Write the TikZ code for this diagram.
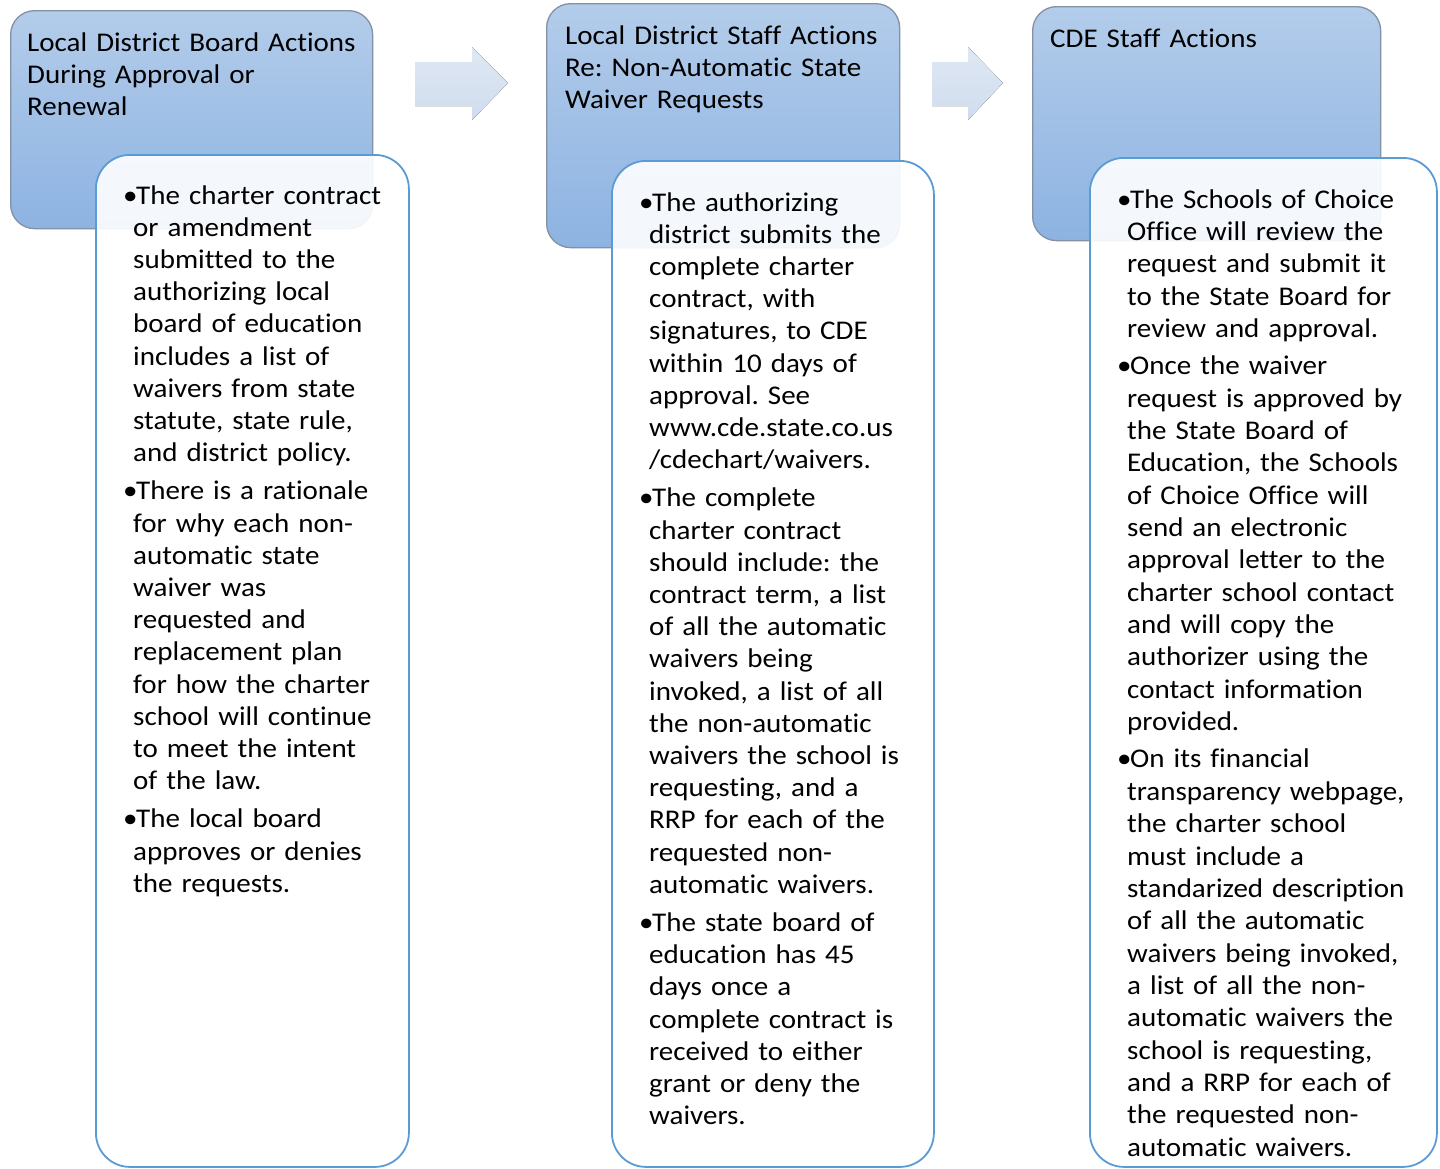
\documentclass[tikz,border=0pt]{standalone}
\usepackage{fontspec}
\setmainfont{Carlito}[FakeStretch=1.075,WordSpace=0.6,Ligatures=NoCommon]
\definecolor{headtop}{HTML}{B3CCEA}
\definecolor{headbot}{HTML}{8DB3E2}
\definecolor{headline}{HTML}{8491A3}
\definecolor{bodyline}{HTML}{5B9BD5}
\definecolor{arrtop}{HTML}{DFE8F4}
\definecolor{arrbot}{HTML}{D0DCEE}
\newcommand\bl{\makebox[13pt][l]{•}}
\newcommand\ct{\hspace*{10pt}}
\frenchspacing
\begin{document}
\begin{tikzpicture}[x=1pt,y=-1pt,
  headbox/.style={draw=headline, line width=1.3pt, rounded corners=24pt,
    top color=headtop, bottom color=headbot, anchor=north west, inner sep=0pt},
  bodybox/.style={draw=bodyline, line width=1.8pt, rounded corners=34pt,
    fill=white, fill opacity=0.9, anchor=north west, inner sep=0pt},
  headtext/.style={anchor=base west, inner sep=0pt, text width=400pt, align=left,
    font=\fontsize{27}{32.2}\selectfont},
  bodytext/.style={anchor=base west, inner sep=0pt, text width=400pt, align=left,
    font=\fontsize{27}{32.2}\selectfont},
  blockarrow/.style={top color=arrtop, bottom color=arrbot, draw=none}]
\useasboundingbox (0,0) rectangle (1440,1168);

% column 1
\node[headbox, minimum width=362pt, minimum height=218pt] (h1) at (10,10) {};
\node[headtext] (h1t) at (27,51) {Local District Board Actions\\During Approval or\\Renewal};
\node[bodybox, minimum width=313pt, minimum height=1012pt] (b1) at (95,154) {};
\node[bodytext] (b1t) at (123,204) {\bl The charter contract\\
\ct or amendment\\
\ct submitted to the\\
\ct authorizing local\\
\ct board of education\\
\ct includes a list of\\
\ct waivers from state\\
\ct statute, state rule,\\
\ct and district policy.\\[6pt]
\bl There is a rationale\\
\ct for why each non-\\
\ct automatic state\\
\ct waiver was\\
\ct requested and\\
\ct replacement plan\\
\ct for how the charter\\
\ct school will continue\\
\ct to meet the intent\\
\ct of the law.\\[6pt]
\bl The local board\\
\ct approves or denies\\
\ct the requests.};

% arrow 1
\fill[blockarrow] (415,62) coordinate (a1s) -- (472,62) -- (472,47) -- (508,83) coordinate (a1t) -- (472,120) -- (472,106) -- (415,106) -- cycle;

% column 2
\node[headbox, minimum width=353pt, minimum height=244pt] (h2) at (546,3) {};
\node[headtext] (h2t) at (565,44) {Local District Staff Actions\\Re: Non-Automatic State\\Waiver Requests};
\node[bodybox, minimum width=322pt, minimum height=1006pt] (b2) at (611,160) {};
\node[bodytext] (b2t) at (639,211) {\bl The authorizing\\
\ct district submits the\\
\ct complete charter\\
\ct contract, with\\
\ct signatures, to CDE\\
\ct within 10 days of\\
\ct approval. See\\
\ct www.cde.state.co.us\\
\ct /cdechart/waivers.\\[6pt]
\bl The complete\\
\ct charter contract\\
\ct should include: the\\
\ct contract term, a list\\
\ct of all the automatic\\
\ct waivers being\\
\ct invoked, a list of all\\
\ct the non-automatic\\
\ct waivers the school is\\
\ct requesting, and a\\
\ct RRP for each of the\\
\ct requested non-\\
\ct automatic waivers.\\[6pt]
\bl The state board of\\
\ct education has 45\\
\ct days once a\\
\ct complete contract is\\
\ct received to either\\
\ct grant or deny the\\
\ct waivers.};

% arrow 2
\fill[blockarrow] (932,62) coordinate (a2s) -- (968,62) -- (968,47) -- (1003,83) coordinate (a2t) -- (968,120) -- (968,106) -- (932,106) -- cycle;

% column 3
\node[headbox, minimum width=348pt, minimum height=234pt] (h3) at (1032,6) {};
\node[headtext] (h3t) at (1050,47) {CDE Staff Actions};
\node[bodybox, minimum width=347pt, minimum height=1009pt] (b3) at (1089,157) {};
\node[bodytext, font=\fontsize{27}{32.35}\selectfont] (b3t) at (1117,208) {\bl The Schools of Choice\\
\ct Office will review the\\
\ct request and submit it\\
\ct to the State Board for\\
\ct review and approval.\\[5pt]
\bl Once the waiver\\
\ct request is approved by\\
\ct the State Board of\\
\ct Education, the Schools\\
\ct of Choice Office will\\
\ct send an electronic\\
\ct approval letter to the\\
\ct charter school contact\\
\ct and will copy the\\
\ct authorizer using the\\
\ct contact information\\
\ct provided.\\[5pt]
\bl On its financial\\
\ct transparency webpage,\\
\ct the charter school\\
\ct must include a\\
\ct standarized description\\
\ct of all the automatic\\
\ct waivers being invoked,\\
\ct a list of all the non-\\
\ct automatic waivers the\\
\ct school is requesting,\\
\ct and a RRP for each of\\
\ct the requested non-\\
\ct automatic waivers.};
\end{tikzpicture}
\end{document}
